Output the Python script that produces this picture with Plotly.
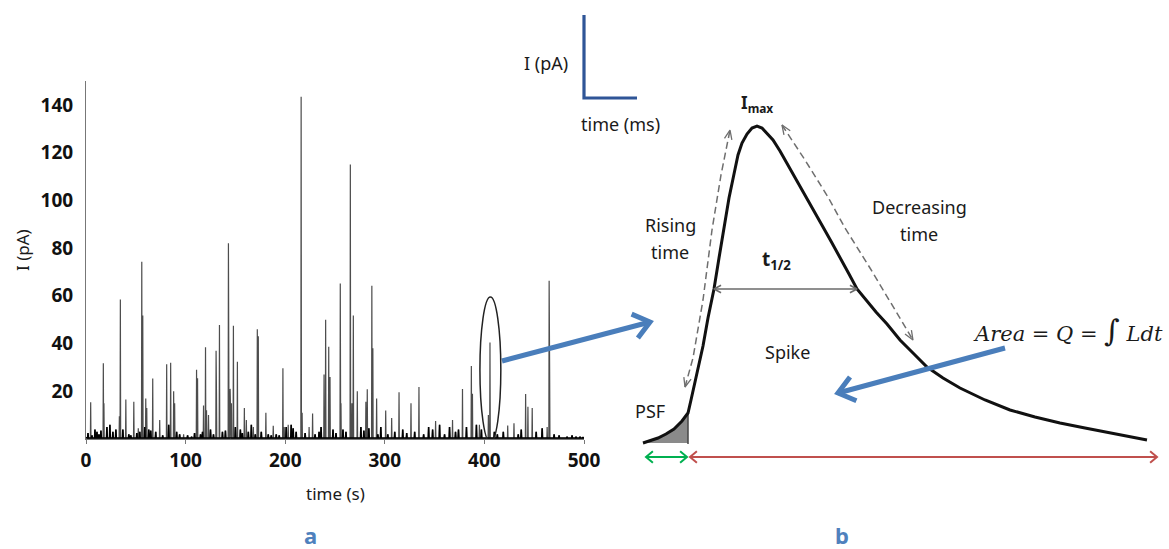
import math
import plotly.graph_objects as go

W, H = 1169, 549

# ---------------- panel a data: amperometric trace ----------------
spike_t = [4.7, 17.4, 18, 34.5, 33.5, 40, 48, 52.5, 56, 57, 60, 61, 67, 74, 81, 85, 88, 89, 98,
           111, 112, 118, 120, 121, 123, 130.6, 131, 134, 143, 143.5, 144.7, 146, 148, 152, 159,
           161, 168, 172, 173, 180.6, 188, 197.7, 199, 203, 216, 217, 224, 227.5, 239, 240.6,
           243.7, 245, 255.3, 256, 265.4, 268.4, 267, 272.4, 281, 282.4, 287, 288, 291.8, 300.9,
           306.9, 314.3, 326.3, 334.3, 351, 368, 378, 386.9, 388, 395, 405.6, 404, 423.4, 429.7,
           441.4, 443.7, 448, 465, 465.5, 463]
spike_i = [15.4, 31.7, 15, 58.5, 9.5, 16.6, 15.6, 4.5, 74.3, 51.7, 17, 13, 25.4, 8, 31.3, 32, 20, 15, 2,
           29, 25.5, 14, 38.4, 12, 10, 37, 19.5, 47.8, 82, 16.5, 21, 15, 47.5, 32.4, 13,
           8, 5, 46, 43, 11, 5.5, 29.6, 5, 6, 143.4, 11, 5, 10.7, 27, 50,
           38.7, 26, 65.2, 15, 115, 51.7, 15, 20, 15.6, 20.8, 64.2, 38, 17, 11.9,
           8.8, 19.6, 15, 21.8, 7.5, 8, 21, 30.6, 19, 6, 40.4, 10, 5.7, 6.6,
           18.9, 13.5, 13, 66.3, 28.5, 5]

noise_t = [2, 6, 9, 11, 13, 15, 21, 24, 27, 30,
           37, 43, 45, 51, 54, 59, 63, 65, 70, 77,
           83, 91, 94, 102, 106, 109, 115, 117, 125, 128,
           137, 140, 150, 155, 157, 163, 166, 170, 176, 183,
           186, 191, 194, 201, 206, 208, 211, 220, 230, 234,
           236, 248, 251, 258, 261, 276, 279, 284, 293, 296,
           303, 310, 318, 322, 330, 339, 344, 348, 355, 360,
           365, 371, 374, 382, 392, 397, 410, 413, 419, 434,
           437, 452, 458, 470, 475, 483, 488, 492, 496, 499]
noise_i = [2.5, 1.5, 4, 3, 2, 3.5, 5, 6, 3, 4,
           4, 2, 1.5, 2.5, 3, 5, 4, 3.5, 3, 1.5,
           6, 3, 2, 1.5, 1, 2.5, 2, 3, 4, 2,
           3, 3.5, 5, 4, 2.5, 3, 6, 2, 3, 2,
           1.5, 2, 1.5, 5, 6, 4.5, 3, 2.5, 2, 3,
           5, 4, 2.5, 4, 3, 5, 3.5, 4.5, 2, 5,
           2, 3, 4, 2.5, 3, 2, 5, 4, 6, 2,
           5, 3, 4, 5, 6, 4, 3, 2, 3, 2,
           4, 3, 4.5, 2, 1.5, 1, 1.5, 1, 1, 0.8]

x_ticks = [0, 100, 200, 300, 400, 500]
y_ticks = [20, 40, 60, 80, 100, 120, 140]

# ---------------- panel b data: schematic spike (drawing units) ----------------
spike_shape_t = [643, 650, 658, 666, 674, 682, 688, 691, 695, 699, 703, 708, 714, 719, 724, 729,
                 734, 738, 742, 747, 752, 757, 762, 767, 773, 780, 788, 797, 806, 815, 823, 832,
                 841, 849, 857, 866, 876, 887, 900, 913, 927, 943, 960, 985, 1010, 1035, 1060,
                 1085, 1110, 1130, 1147]
spike_shape_i = [443, 441, 438, 434, 429, 421, 413, 400, 383, 366, 346, 318, 289, 258, 227, 198,
                 174, 155, 143, 134, 128, 126, 128, 133, 140, 151, 165, 180, 196, 212, 227, 243,
                 259, 274, 289, 300, 312, 324, 340, 353, 367, 378, 388, 400, 410, 417, 423,
                 428, 433, 437, 440]
psf_end = 688
rise_path_t = [685, 693, 703, 712, 721, 730]
rise_path_i = [387, 358, 300, 230, 175, 130]
decay_path_t = [782, 805, 828, 845, 870, 887, 913]
decay_path_i = [125, 160, 197, 228, 268, 297, 340]

fig = go.Figure()

# ---- build trace from spikes + noise ----
events = sorted(list(zip(spike_t, spike_i)) + list(zip(noise_t, noise_i)))
tx, ty = [0], [0.6]
for t, v in events:
    tx += [t - 0.3, t, t + 0.3]
    ty += [0.3, v, 0.3]
tx.append(500)
ty.append(0.3)
fig.add_trace(go.Scatter(x=tx, y=ty, mode="lines", line=dict(color="#4d4d4d", width=1.2),
                         hoverinfo="skip", showlegend=False))
bx, by = [0], [0.5]
for t, v in sorted(zip(noise_t, noise_i)):
    bx += [t - 0.4, t, t + 0.4]
    by += [0.4, v, 0.4]
bx.append(500)
by.append(0.4)
fig.add_trace(go.Scatter(x=bx, y=by, mode="lines", line=dict(color="#000000", width=1.6),
                         hoverinfo="skip", showlegend=False))

# ---- schematic on pixel-like axes ----
def sc(x, y, color, width, dash=None, fill=None, fillcolor=None):
    fig.add_trace(go.Scatter(x=x, y=y, xaxis="x2", yaxis="y2", mode="lines",
                             line=dict(color=color, width=width, dash=dash),
                             fill=fill, fillcolor=fillcolor, hoverinfo="skip",
                             showlegend=False))

def chevron(tip, frm, length, half_angle, color, width):
    dx, dy = frm[0] - tip[0], frm[1] - tip[1]
    n = math.hypot(dx, dy)
    ux, uy = dx / n, dy / n
    a = math.radians(half_angle)
    pts = []
    for s in (a, -a):
        rx = ux * math.cos(s) - uy * math.sin(s)
        ry = ux * math.sin(s) + uy * math.cos(s)
        pts.append((tip[0] + rx * length, tip[1] + ry * length))
    sc([pts[0][0], tip[0], pts[1][0]], [pts[0][1], tip[1], pts[1][1]], color, width)

def arrow(p0, p1, color, width, head, ang, both=False):
    sc([p0[0], p1[0]], [p0[1], p1[1]], color, width)
    chevron(p1, p0, head, ang, color, width)
    if both:
        chevron(p0, p1, head, ang, color, width)

# PSF fill
k = spike_shape_t.index(psf_end)
sc(spike_shape_t[:k + 1] + [psf_end, spike_shape_t[0]],
   spike_shape_i[:k + 1] + [spike_shape_i[0], spike_shape_i[0]],
   "rgba(0,0,0,0)", 0, fill="toself", fillcolor="#8a8a8a")
sc([psf_end, psf_end], [spike_shape_i[k], spike_shape_i[0] + 1], "#444444", 1.5)

# dashed rising / decay arrows
sc(rise_path_t, rise_path_i, "#6e6e6e", 1.5, dash="7px,4px")
chevron((rise_path_t[0], rise_path_i[0]), (rise_path_t[1], rise_path_i[1]), 10, 22, "#6e6e6e", 1.3)
chevron((rise_path_t[-1], rise_path_i[-1]), (rise_path_t[-2], rise_path_i[-2]), 10, 22, "#6e6e6e", 1.3)
sc(decay_path_t, decay_path_i, "#6e6e6e", 1.5, dash="7px,4px")
chevron((decay_path_t[0], decay_path_i[0]), (decay_path_t[1], decay_path_i[1]), 10, 22, "#6e6e6e", 1.3)
chevron((decay_path_t[-1], decay_path_i[-1]), (decay_path_t[-2], decay_path_i[-2]), 10, 22, "#6e6e6e", 1.3)

# spike curve
sc(spike_shape_t, spike_shape_i, "#111111", 3)

# t1/2
arrow((714, 289), (857, 289), "#6a6a6a", 1.6, 8, 28, both=True)

# time bars
arrow((646, 457), (687, 457), "#00B050", 2, 9, 40, both=True)
arrow((690, 457), (1157, 457), "#C0504D", 2, 9, 40, both=True)

# blue arrows
arrow((502, 361), (650, 322), "#4A7EBB", 5, 20, 38)
arrow((1005, 348), (838, 393), "#4A7EBB", 5, 20, 38)

# scale bar
sc([584, 584, 637], [15, 98, 98], "#2F5597", 3.2)

# ellipse around spike in panel a
fig.add_shape(type="circle", xref="x", yref="y", x0=395.5, x1=416.5, y0=-1.5, y1=59.5,
              line=dict(color="#222222", width=1.5))

FONT = "Noto Sans"
def txt(x, y, s, size=18, color="#1a1a1a", family=FONT, angle=0, xanchor="center", **kw):
    fig.add_annotation(x=x, y=y, xref="x2", yref="y2", text=s, showarrow=False,
                       font=dict(size=size, color=color, family=family), textangle=angle,
                       xanchor=xanchor, yanchor="middle", **kw)

txt(546, 63, "I (pA)")
txt(620, 124, "time (ms)")
txt(757, 103, "<b>I<sub>max</sub></b>", size=17)
txt(670, 225, "Rising")
txt(670, 252, "time")
txt(919, 207, "Decreasing")
txt(919, 234, "time")
txt(776, 260, "<b>t<sub>1/2</sub></b>", size=19)
txt(787, 352, "Spike")
txt(650, 411, "PSF")
txt(1165, 330, "<i>Area</i> = <i>Q</i> = <span style='font-size:30px'>∫</span> <i>Ldt</i>",
    size=21, family="DejaVu Serif", xanchor="right")
txt(335, 493, "time (s)", size=17)
txt(22, 250, "I (pA)", size=17, angle=-90)
txt(310, 535, "<b>a</b>", size=22, color="#4F81BD")
txt(842, 535, "<b>b</b>", size=22, color="#4F81BD")

fig.update_layout(
    width=W, height=H, autosize=False,
    margin=dict(l=0, r=0, t=0, b=0, pad=0, autoexpand=False),
    paper_bgcolor="white", plot_bgcolor="rgba(0,0,0,0)",
    showlegend=False,
    xaxis=dict(domain=[86 / W, 584 / W], range=[0, 500], anchor="y", automargin=False,
               tickvals=x_ticks, ticks="outside", ticklen=4, tickcolor="#777",
               showline=True, linecolor="#777", linewidth=1, showgrid=False, zeroline=False,
               tickfont=dict(family=FONT, size=19, color="#111", weight="bold")),
    yaxis=dict(domain=[(H - 439) / H, (H - 81) / H], range=[0, 150], anchor="x", automargin=False,
               tickvals=y_ticks, ticks="", showline=True, linecolor="#777", linewidth=1,
               showgrid=False, zeroline=False, ticklabelstandoff=8,
               tickfont=dict(family=FONT, size=19, color="#111", weight="bold")),
    xaxis2=dict(domain=[0, 1], range=[0, W], anchor="y2", visible=False, fixedrange=True,
                automargin=False),
    yaxis2=dict(domain=[0, 1], range=[H, 0], anchor="x2", visible=False, fixedrange=True,
                automargin=False),
)

fig.write_html("out.html")
